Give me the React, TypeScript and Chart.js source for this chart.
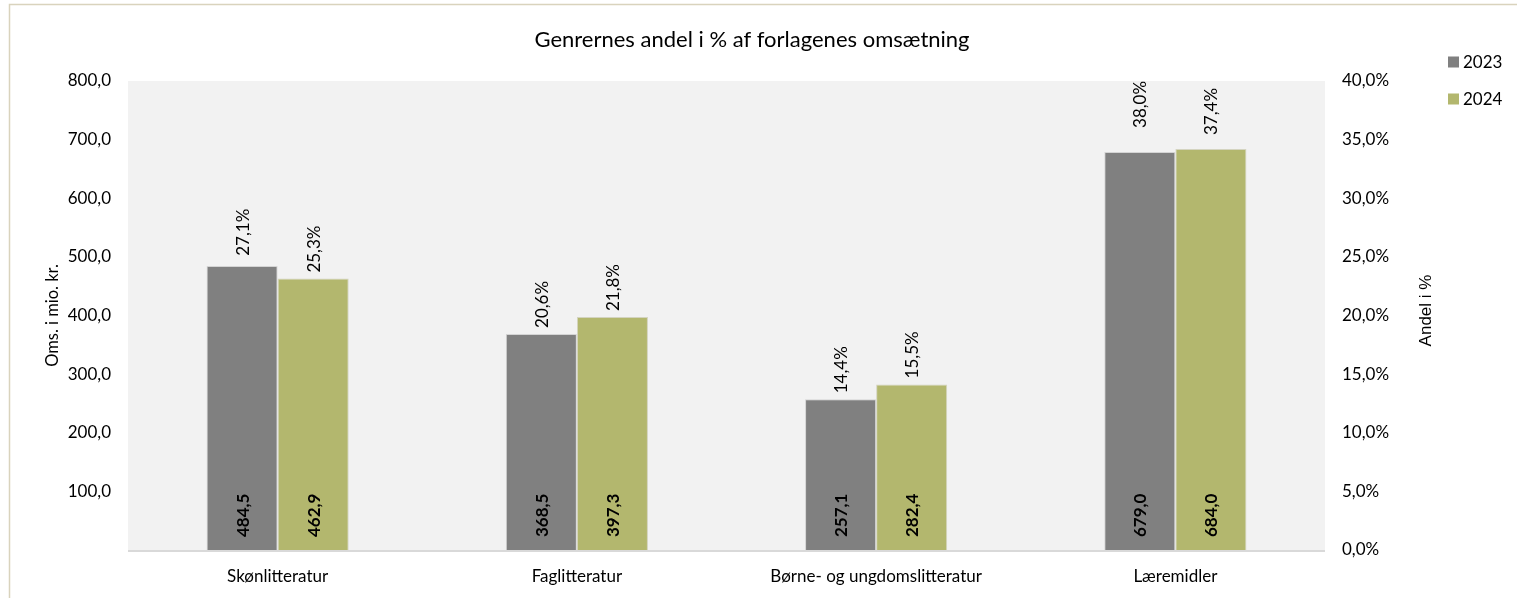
import React, { useEffect, useRef } from 'react';
import { Chart, registerables } from 'chart.js';

Chart.register(...registerables);

const categories = ['Skønlitteratur', 'Faglitteratur', 'Børne- og ungdomslitteratur', 'Læremidler'];
const seriesNames = ['2023', '2024'];
const values2023 = [484.5, 368.5, 257.1, 679.0];
const values2024 = [462.9, 397.3, 282.4, 684.0];
const share2023 = [27.1, 20.6, 14.4, 38.0];
const share2024 = [25.3, 21.8, 15.5, 37.4];
const titleText = 'Genrernes andel i % af forlagenes omsætning';
const leftAxisTitle = 'Oms. i mio. kr.';
const rightAxisTitle = 'Andel i %';
const seriesColors = ['#808080', '#b3b76e'];

const FONT = 'Lato, "Open Sans", sans-serif';
const fmt1 = (v: number) => v.toFixed(1).replace('.', ',');

const decorPlugin = {
  id: 'decor',
  beforeDraw(chart: any) {
    const { ctx, chartArea } = chart;
    ctx.save();
    ctx.fillStyle = '#ffffff';
    ctx.fillRect(0, 0, chart.width, chart.height);
    ctx.fillStyle = '#f2f2f2';
    ctx.fillRect(chartArea.left, chartArea.top, chartArea.right - chartArea.left, chartArea.bottom - chartArea.top);
    ctx.strokeStyle = '#d9d3bd';
    ctx.lineWidth = 1.5;
    ctx.beginPath();
    ctx.moveTo(9.5, chart.height);
    ctx.lineTo(9.5, 4.5);
    ctx.lineTo(chart.width, 4.5);
    ctx.stroke();
    ctx.restore();
  },
  afterDatasetsDraw(chart: any) {
    const { ctx, chartArea } = chart;
    const y2 = chart.scales.y2;
    ctx.save();
    ctx.strokeStyle = '#d9d9d9';
    ctx.lineWidth = 2;
    ctx.beginPath();
    ctx.moveTo(chartArea.left, chartArea.bottom + 1);
    ctx.lineTo(chartArea.right, chartArea.bottom + 1);
    ctx.stroke();

    const shares = [share2023, share2024];
    [0, 1].forEach((di) => {
      const meta = chart.getDatasetMeta(di);
      meta.data.forEach((el: any, j: number) => {
        const v = chart.data.datasets[di].data[j] as number;
        ctx.save();
        ctx.translate(el.x, el.base - 13);
        ctx.rotate(-Math.PI / 2);
        ctx.font = `bold 17px ${FONT}`;
        ctx.fillStyle = '#000000';
        ctx.textAlign = 'left';
        ctx.textBaseline = 'middle';
        ctx.fillText(fmt1(v), 0, 1);
        ctx.restore();
        const txt = fmt1(shares[di][j]) + '%';
        ctx.save();
        ctx.font = `17px ${FONT}`;
        const w = ctx.measureText(txt).width;
        const py = Math.min(y2.getPixelForValue(shares[di][j]), el.y - 6 - w / 2);
        ctx.translate(el.x, py);
        ctx.rotate(-Math.PI / 2);
        ctx.fillStyle = '#000000';
        ctx.textAlign = 'center';
        ctx.textBaseline = 'middle';
        ctx.fillText(txt, 0, 1);
        ctx.restore();
      });
    });
    ctx.restore();
  },
  afterDraw(chart: any) {
    const { ctx, chartArea } = chart;
    ctx.save();
    ctx.fillStyle = '#000000';
    ctx.font = `22px ${FONT}`;
    ctx.textAlign = 'center';
    ctx.textBaseline = 'middle';
    ctx.fillText(titleText, 752, 40);
    ctx.font = `17px ${FONT}`;
    ctx.textAlign = 'left';
    seriesNames.forEach((n, i) => {
      const cy = 62 + i * 37;
      ctx.fillStyle = seriesColors[i];
      ctx.fillRect(1448, cy - 5.5, 11, 11);
      ctx.fillStyle = '#000000';
      ctx.fillText(n, 1463, cy + 1);
    });
    const midY = (chartArea.top + chartArea.bottom) / 2;
    ctx.save();
    ctx.translate(53, midY);
    ctx.rotate(-Math.PI / 2);
    ctx.font = `16.5px ${FONT}`;
    ctx.textAlign = 'center';
    ctx.fillText(leftAxisTitle, 0, 0);
    ctx.restore();
    ctx.save();
    ctx.translate(1426, midY - 5);
    ctx.rotate(-Math.PI / 2);
    ctx.font = `17px "Liberation Sans", Arial, sans-serif`;
    ctx.textAlign = 'center';
    ctx.fillText(rightAxisTitle, 0, 0);
    ctx.restore();
    ctx.restore();
  },
};

export default function App() {
  const ref = useRef<HTMLCanvasElement | null>(null);
  useEffect(() => {
    if (!ref.current) return;
    const chart = new Chart(ref.current, {
      type: 'bar',
      data: {
        labels: categories,
        datasets: [
          {
            type: 'bar',
            label: seriesNames[0],
            data: values2023,
            backgroundColor: seriesColors[0],
            borderColor: '#d4d4d4',
            borderWidth: 1,
            yAxisID: 'y',
            categoryPercentage: 0.475,
            barPercentage: 1.0,
          },
          {
            type: 'bar',
            label: seriesNames[1],
            data: values2024,
            backgroundColor: seriesColors[1],
            borderColor: '#d4d4c0',
            borderWidth: 1,
            yAxisID: 'y',
            categoryPercentage: 0.475,
            barPercentage: 1.0,
          },
          {
            type: 'line',
            label: 'Andel 2023',
            data: share2023,
            yAxisID: 'y2',
            showLine: false,
            pointRadius: 0,
            pointHoverRadius: 0,
          },
          {
            type: 'line',
            label: 'Andel 2024',
            data: share2024,
            yAxisID: 'y2',
            showLine: false,
            pointRadius: 0,
            pointHoverRadius: 0,
          },
        ],
      } as any,
      options: {
        responsive: false,
        animation: false,
        devicePixelRatio: 1,
        events: [],
        layout: { padding: { top: 81, left: 0, right: 0, bottom: 0 } },
        plugins: {
          legend: { display: false },
          title: { display: false },
          tooltip: { enabled: false },
        },
        scales: {
          x: {
            grid: { display: false, drawTicks: false },
            border: { display: false },
            ticks: {
              color: '#000000',
              font: { family: FONT, size: 17 },
              padding: 16,
              maxRotation: 0,
              autoSkip: false,
            },
            afterFit: (s: any) => {
              s.height = 48;
            },
          },
          y: {
            position: 'left',
            min: 0,
            max: 800,
            grid: { display: false, drawTicks: false },
            border: { display: false },
            ticks: {
              stepSize: 100,
              color: '#000000',
              font: { family: FONT, size: 17 },
              padding: 17,
              callback: (v: any) => (v === 0 ? '' : fmt1(Number(v))),
            },
            afterFit: (s: any) => {
              s.width = 128;
            },
          },
          y2: {
            position: 'right',
            min: 0,
            max: 40,
            grid: { display: false, drawTicks: false },
            border: { display: false },
            ticks: {
              stepSize: 5,
              color: '#000000',
              font: { family: FONT, size: 17 },
              padding: 17,
              callback: (v: any) => fmt1(Number(v)) + '%',
            },
            afterFit: (s: any) => {
              s.width = 192;
            },
          },
        },
      } as any,
      plugins: [decorPlugin],
    });
    return () => chart.destroy();
  }, []);
  return (
    <div style={{ position: 'fixed', left: 0, top: 0, width: 1517, height: 598, background: '#fff' }}>
      <canvas ref={ref} width={1517} height={598} style={{ display: 'block' }} />
    </div>
  );
}
